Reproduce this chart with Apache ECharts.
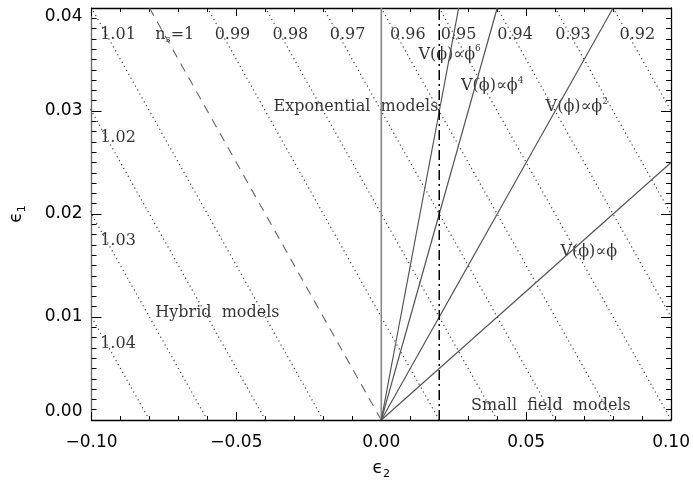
<!DOCTYPE html>
<html>
<head>
<meta charset="utf-8">
<script src="https://cdn.jsdelivr.net/npm/echarts@6/dist/echarts.min.js"></script>
<style>
  html, body { margin: 0; padding: 0; background: #fff; }
  #main { width: 693px; height: 485px; }
</style>
</head>
<body>
<div id="main"></div>
<script>
// n_s contours (dotted): eps2 where each line meets eps1 = 0 and eps1 = 0.04
const nsNames = ['1.04', '1.03', '1.02', '1.01', '0.99', '0.98', '0.97', '0.96', '0.95', '0.94', '0.93', '0.92'];
const nsFoot = [-0.08, -0.06, -0.04, -0.02, 0.02, 0.04, 0.06, 0.08, 0.10, 0.12, 0.14, 0.16];
const nsTop = [-0.16, -0.14, -0.12, -0.10, -0.06, -0.04, -0.02, 0.00, 0.02, 0.04, 0.06, 0.08];

// n_s = 1 (dashed)
const nsOneLine = [[0, 0], [-0.08, 0.04]];

// model lines starting at the origin: end points
const modelNames = ['exponential', 'phi6', 'phi4', 'phi2', 'phi1'];
const modelEnd = [[0, 0.04], [0.0267, 0.04], [0.04, 0.04], [0.08, 0.04], [0.10, 0.025]];

// vertical dash-dot line
const cutLine = [[0.02, 0], [0.02, 0.04]];

// text labels (left edge eps2, centre eps1)
const labelText = [
  '{t|1.01}', '{t|n}{sub|s}{t|=1}', '{t|0.99}', '{t|0.98}', '{t|0.97}', '{t|0.96}',
  '{t|0.95}', '{t|0.94}', '{t|0.93}', '{t|0.92}',
  '{t|1.02}', '{t|1.03}', '{t|1.04}',
  '{t|Exponential  models}', '{t|Hybrid  models}', '{t|Small  field  models}',
  '{t|V(ϕ)∝ϕ}{sup|6}', '{t|V(ϕ)∝ϕ}{sup|4}', '{t|V(ϕ)∝ϕ}{sup|2}', '{t|V(ϕ)∝ϕ}'
];
const labelX = [
  -0.0970, -0.0780, -0.0575, -0.0375, -0.0178, 0.0030,
  0.0205, 0.0400, 0.0600, 0.0822,
  -0.0970, -0.0970, -0.0970,
  -0.0372, -0.0780, 0.0310,
  0.0128, 0.0275, 0.0567, 0.0618
];
const labelY = [
  0.0374, 0.0374, 0.0374, 0.0374, 0.0374, 0.0374,
  0.0374, 0.0374, 0.0374, 0.0374,
  0.0274, 0.0174, 0.0074,
  0.0304, 0.0104, 0.0014,
  0.0355, 0.0324, 0.0304, 0.0163
];

const xTicks = { min: -0.1, max: 0.1, interval: 0.05 };
const yTicks = { min: 0, max: 0.04, interval: 0.01 };

function fmtX(v) {
  if (Math.abs(v) < 1e-9) return '0.00';
  return (v < 0 ? '\u2212' : '') + Math.abs(v).toFixed(2);
}
function fmtY(v) {
  return v.toFixed(2);
}

const tickFont = 'DejaVu Sans';
const textFont = 'DejaVu Serif';

function xAxisCfg(pos, showLabel) {
  return {
    type: 'value', position: pos, min: xTicks.min, max: xTicks.max, interval: xTicks.interval,
    axisLine: { onZero: false, lineStyle: { color: '#000', width: 1.3 } },
    axisTick: { inside: true, length: 8, lineStyle: { color: '#000', width: 1 } },
    minorTick: { show: true, splitNumber: 5, length: 4, lineStyle: { color: '#000', width: 1 } },
    splitLine: { show: false },
    axisLabel: { show: showLabel, fontFamily: tickFont, fontSize: 17, color: '#000', margin: 14, formatter: fmtX },
    name: showLabel ? '{e|\u03f5}{s|2}' : '',
    nameLocation: 'middle', nameGap: 38,
    nameTextStyle: {
      rich: {
        e: { fontFamily: tickFont, fontSize: 17, color: '#000', lineHeight: 22, verticalAlign: 'middle' },
        s: { fontFamily: tickFont, fontSize: 11, color: '#000', lineHeight: 11, verticalAlign: 'bottom' }
      }
    }
  };
}

function yAxisCfg(pos, showLabel) {
  return {
    type: 'value', position: pos, min: yTicks.min, max: yTicks.max, interval: yTicks.interval,
    axisLine: { onZero: false, lineStyle: { color: pos === 'left' ? '#666' : '#000', width: 1.3 } },
    axisTick: { inside: true, length: 10, lineStyle: { color: '#000', width: 1 } },
    minorTick: { show: true, splitNumber: 10, length: 5, lineStyle: { color: '#000', width: 1 } },
    splitLine: { show: false },
    axisLabel: {
      show: showLabel, fontFamily: tickFont, fontSize: 17, color: '#000', margin: 9, formatter: fmtY,
      verticalAlignMinLabel: 'bottom', verticalAlignMaxLabel: 'top'
    },
    name: showLabel ? '{e|\u03f5}{s|1}' : '',
    nameLocation: 'middle', nameGap: 64, nameRotate: 90,
    nameTextStyle: {
      rich: {
        e: { fontFamily: tickFont, fontSize: 17, color: '#000', lineHeight: 22, verticalAlign: 'middle' },
        s: { fontFamily: tickFont, fontSize: 11, color: '#000', lineHeight: 11, verticalAlign: 'bottom' }
      }
    }
  };
}

const series = [];

nsNames.forEach(function (n, i) {
  series.push({
    name: 'ns ' + n, type: 'line', symbol: 'none', silent: true,
    data: [[nsFoot[i], 0], [nsTop[i], 0.04]],
    lineStyle: { color: '#444', width: 1.2, type: [1.2, 3.3] }
  });
});

series.push({
  name: 'ns 1', type: 'line', symbol: 'none', silent: true,
  data: nsOneLine,
  lineStyle: { color: '#666', width: 1.1, type: [9, 7] }
});

modelNames.forEach(function (n, i) {
  series.push({
    name: n, type: 'line', symbol: 'none', silent: true,
    data: [[0, 0], modelEnd[i]],
    lineStyle: { color: i === 0 ? '#888' : '#555', width: i === 0 ? 1.6 : 1.2 }
  });
});

series.push({
  name: 'cut', type: 'line', symbol: 'none', silent: true,
  data: cutLine,
  lineStyle: { color: '#000', width: 1.5, type: [10, 4, 2, 4] }
});

series.push({
  name: 'labels', type: 'scatter', symbolSize: 0, silent: true,
  data: labelText.map(function (t, i) { return { value: [labelX[i], labelY[i]], text: t }; }),
  label: {
    show: true, position: [0, 0], align: 'left', verticalAlign: 'middle',
    formatter: function (p) { return p.data.text; },
    rich: {
      t: { fontFamily: textFont, fontSize: 16, color: '#000', lineHeight: 20, verticalAlign: 'middle' },
      sub: { fontFamily: textFont, fontSize: 10, color: '#000', lineHeight: 10, verticalAlign: 'bottom' },
      sup: { fontFamily: textFont, fontSize: 9, color: '#000', lineHeight: 9, verticalAlign: 'top' }
    }
  }
});

const chart = echarts.init(document.getElementById('main'), null, { renderer: 'canvas' });
chart.setOption({
  animation: false,
  backgroundColor: '#fff',
  grid: { left: 89, right: 21, top: 8, bottom: 63, containLabel: false },
  xAxis: [xAxisCfg('bottom', true), xAxisCfg('top', false)],
  yAxis: [yAxisCfg('left', true), yAxisCfg('right', false)],
  series: series
});
</script>
</body>
</html>
